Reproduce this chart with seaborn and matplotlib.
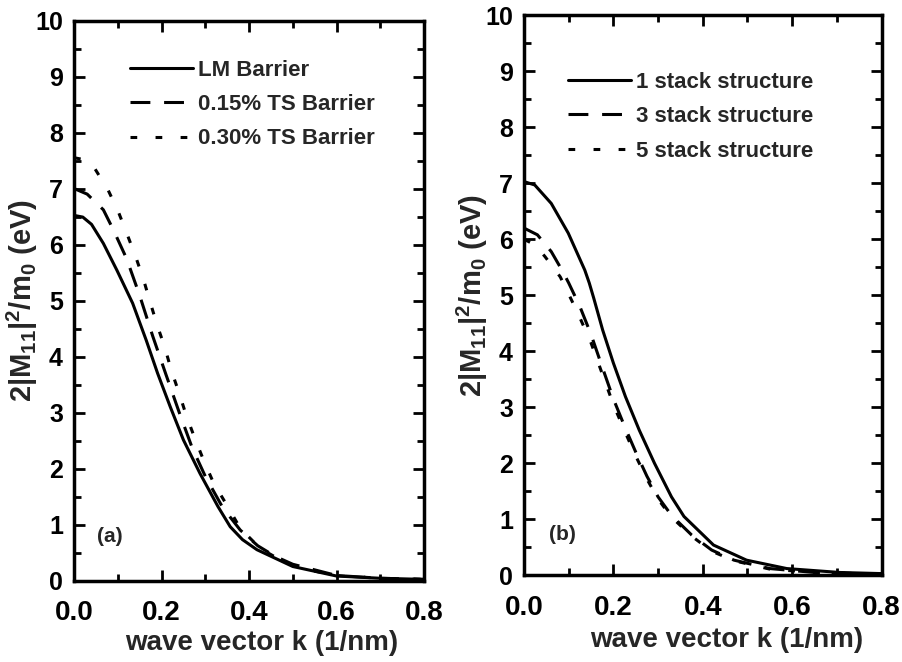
import numpy as np
import pandas as pd
import matplotlib
matplotlib.use("Agg")
import matplotlib.pyplot as plt
import seaborn as sns
from matplotlib.ticker import MultipleLocator, FormatStrFormatter

# ---------------- data ----------------
# panel (a)
lm_k = [0, 0.02, 0.04, 0.067, 0.098, 0.134, 0.165, 0.191, 0.22, 0.25, 0.288, 0.329, 0.357, 0.385, 0.418, 0.5, 0.6, 0.7, 0.8]
lm_y = [6.52, 6.49, 6.36, 6.02, 5.54, 4.95, 4.29, 3.70, 3.10, 2.51, 1.91, 1.32, 0.96, 0.73, 0.55, 0.25, 0.08, 0.04, 0.02]

ts15_k = [0, 0.03, 0.067, 0.09, 0.12, 0.15, 0.18, 0.21, 0.24, 0.27, 0.30, 0.34, 0.38, 0.42, 0.46, 0.5, 0.6, 0.7, 0.8]
ts15_y = [7.0, 6.9, 6.62, 6.26, 5.75, 5.09, 4.36, 3.68, 3.01, 2.37, 1.86, 1.30, 0.90, 0.62, 0.43, 0.29, 0.09, 0.04, 0.02]

ts30_k = [0, 0.02, 0.044, 0.078, 0.101, 0.122, 0.141, 0.159, 0.174, 0.19, 0.208, 0.222, 0.24, 0.256,
          0.275, 0.296, 0.319, 0.349, 0.38, 0.426, 0.471, 0.517, 0.6, 0.7, 0.8]
ts30_y = [7.55, 7.52, 7.4, 6.97, 6.59, 6.17, 5.78, 5.37, 4.97, 4.56, 4.15, 3.76, 3.35, 2.96,
          2.56, 2.15, 1.74, 1.35, 0.93, 0.57, 0.37, 0.22, 0.09, 0.04, 0.02]

labels_a = ["LM Barrier", "0.15% TS Barrier", "0.30% TS Barrier"]

# panel (b)
s1_k = [0, 0.024, 0.061, 0.099, 0.136, 0.146, 0.156, 0.176, 0.2, 0.227, 0.258, 0.292, 0.33, 0.358, 0.424, 0.498, 0.588, 0.707, 0.8]
s1_y = [7.03, 6.97, 6.64, 6.11, 5.45, 5.22, 4.95, 4.38, 3.79, 3.19, 2.59, 2.0, 1.4, 1.05, 0.54, 0.27, 0.12, 0.05, 0.03]

s3_k = [0, 0.03, 0.061, 0.087, 0.1, 0.125, 0.15, 0.175, 0.2, 0.225, 0.25, 0.275, 0.3, 0.33, 0.375, 0.42, 0.47, 0.55, 0.65, 0.8]
s3_y = [6.2, 6.08, 5.78, 5.42, 5.22, 4.8, 4.3, 3.72, 3.15, 2.66, 2.2, 1.77, 1.4, 1.07, 0.72, 0.45, 0.27, 0.12, 0.05, 0.02]

s5_k = [0, 0.025, 0.047, 0.081, 0.106, 0.125, 0.15, 0.175, 0.2, 0.225, 0.25, 0.275, 0.3, 0.33, 0.375, 0.42, 0.47, 0.55, 0.65, 0.8]
s5_y = [6.0, 5.9, 5.69, 5.33, 4.92, 4.6, 4.15, 3.6, 3.05, 2.58, 2.13, 1.72, 1.36, 1.04, 0.7, 0.43, 0.26, 0.11, 0.05, 0.02]

labels_b = ["1 stack structure", "3 stack structure", "5 stack structure"]

x_ticks = [0.0, 0.2, 0.4, 0.6, 0.8]
y_ticks = list(range(0, 11))

# ---------------- style ----------------
sns.set_theme(style="ticks")
plt.rcParams["font.family"] = ["Liberation Sans", "DejaVu Sans"]
plt.rcParams["font.weight"] = "bold"
plt.rcParams["mathtext.fontset"] = "custom"
plt.rcParams["mathtext.rm"] = "Liberation Sans:bold"
plt.rcParams["mathtext.it"] = "Liberation Sans:bold"
plt.rcParams["mathtext.bf"] = "Liberation Sans:bold"
plt.rcParams["mathtext.default"] = "bf"


def make_df(ks, ys, labels):
    frames = []
    for k, y, lab in zip(ks, ys, labels):
        frames.append(pd.DataFrame({"k": k, "M": y, "series": lab}))
    return pd.concat(frames, ignore_index=True)


df_a = make_df([lm_k, ts15_k, ts30_k], [lm_y, ts15_y, ts30_y], labels_a)
df_b = make_df([s1_k, s3_k, s5_k], [s1_y, s3_y, s5_y], labels_b)

fig = plt.figure(figsize=(9.03, 6.62), dpi=100)
ax_a = fig.add_axes([0.0820, 0.1231, 0.3876, 0.8459])
ax_b = fig.add_axes([0.5803, 0.1310, 0.3959, 0.8459])

LW = 2.2
dash_styles = ["", (6.5, 4.5), (2.2, 6.0)]


def draw(ax, df, labels, panel, leg_anchor, xlab_y, xlab_x, ylab_x, panel_xy):
    dashes = {lab: d for lab, d in zip(labels, dash_styles)}
    sns.lineplot(data=df, x="k", y="M", style="series", style_order=labels,
                 dashes=dashes, color="black", linewidth=LW, ax=ax,
                 legend=True, sort=False, estimator=None)
    ax.set_xlim(0, 0.8)
    ax.set_ylim(0, 10)
    ax.set_xticks(x_ticks)
    ax.set_yticks(y_ticks)
    ax.xaxis.set_minor_locator(MultipleLocator(0.1))
    ax.yaxis.set_minor_locator(MultipleLocator(0.5))
    ax.xaxis.set_major_formatter(FormatStrFormatter("%.1f"))
    ax.yaxis.set_major_formatter(FormatStrFormatter("%d"))
    ax.tick_params(which="both", direction="in", top=True, right=True,
                   width=2, colors="black")
    ax.tick_params(which="major", length=8)
    ax.tick_params(which="minor", length=5)
    ax.tick_params(axis="x", which="major", labelsize=20, pad=14)
    ax.tick_params(axis="y", which="major", labelsize=18, pad=8)
    for lab in ax.get_xticklabels() + ax.get_yticklabels():
        lab.set_fontweight("bold")
    for sp in ax.spines.values():
        sp.set_linewidth(2.5)
        sp.set_color("black")
    ax.set_xlabel("wave vector k (1/nm)", fontsize=20, fontweight="bold")
    ax.set_ylabel(r"$2|M_{11}|^2/m_0$ (eV)", fontsize=21, fontweight="bold")
    ax.xaxis.set_label_coords(xlab_x, xlab_y)
    ax.yaxis.set_label_coords(ylab_x, 0.5)
    handles, labs = ax.get_legend_handles_labels()
    for h in handles:
        h.set_linewidth(LW)
        h.set_color("black")
    ax.legend(handles, labs, loc="upper left", bbox_to_anchor=leg_anchor,
              frameon=False, handlelength=2.85, handletextpad=0.22,
              labelspacing=0.6, borderaxespad=0, borderpad=0,
              prop={"weight": "bold", "size": 16})
    ax.text(panel_xy[0], panel_xy[1], panel, fontsize=15, fontweight="bold",
            ha="center", va="center")


draw(ax_a, df_a, labels_a, "(a)", (0.16, 0.930), -0.088, 0.537, -0.097, (0.082, 0.78))
draw(ax_b, df_b, labels_b, "(b)", (0.123, 0.899), -0.092, 0.568, -0.095, (0.085, 0.72))

fig.savefig("out.png", dpi=100)
